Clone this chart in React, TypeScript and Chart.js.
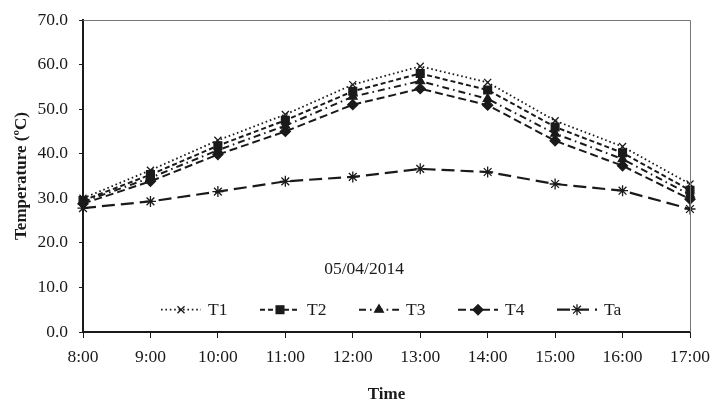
import React, { useEffect, useRef } from "react";
import { Chart, registerables } from "chart.js";
import { drawPoint } from "chart.js/helpers";

Chart.register(...registerables);

const categories = ["8:00", "9:00", "10:00", "11:00", "12:00", "13:00", "14:00", "15:00", "16:00", "17:00"];
const seriesT1 = [30.0, 36.3, 43.0, 48.8, 55.5, 59.6, 56.0, 47.4, 41.6, 33.2];
const seriesT2 = [29.5, 35.3, 41.8, 47.5, 54.0, 58.0, 54.3, 46.0, 40.2, 31.8];
const seriesT3 = [29.2, 34.6, 40.8, 46.3, 52.8, 56.3, 52.3, 44.5, 38.8, 30.8];
const seriesT4 = [28.8, 33.8, 39.8, 45.0, 51.0, 54.6, 50.9, 42.9, 37.3, 29.8];
const seriesTa = [27.8, 29.3, 31.5, 33.8, 34.8, 36.6, 35.9, 33.2, 31.7, 27.6];
const seriesLabels = ["T1", "T2", "T3", "T4", "Ta"];
const dateLabel = "05/04/2014";
const xTitle = "Time";
const yTitle = "Temperature (ºC)";

const FONT = "'Liberation Serif', 'Times New Roman', serif";
const INK = "#1a1a1a";
const TICK_SIZE = 17.5;

const frameAndLegend = {
  id: "frameAndLegend",
  afterDatasetsDraw(chart: any) {
    const { ctx, chartArea } = chart;
    const { left, right, top, bottom } = chartArea;
    ctx.save();
    ctx.strokeStyle = "#777";
    ctx.lineWidth = 1;
    ctx.beginPath();
    ctx.moveTo(left, top + 0.5);
    ctx.lineTo(right + 0.5, top + 0.5);
    ctx.lineTo(right + 0.5, bottom);
    ctx.stroke();

    const yScale = chart.scales.y;
    ctx.fillStyle = INK;
    ctx.font = `${TICK_SIZE}px ${FONT}`;
    ctx.textAlign = "center";
    ctx.textBaseline = "middle";
    ctx.fillText(dateLabel, left + 0.463 * (right - left), yScale.getPixelForValue(14.1));

    const ly = yScale.getPixelForValue(5.0);
    chart.data.datasets.forEach((ds: any, i: number) => {
      const x0 = left + 78 + i * 99;
      ctx.save();
      ctx.strokeStyle = ds.borderColor;
      ctx.lineWidth = ds.borderWidth;
      ctx.setLineDash(ds.borderDash || []);
      ctx.beginPath();
      ctx.moveTo(x0, ly);
      ctx.lineTo(x0 + 40, ly);
      ctx.stroke();
      ctx.setLineDash([]);
      ctx.strokeStyle = INK;
      ctx.fillStyle = INK;
      ctx.lineWidth = ds.pointBorderWidth;
      drawPoint(ctx, {
        pointStyle: ds.pointStyle,
        radius: ds.pointRadius,
        rotation: 0,
        borderWidth: ds.pointBorderWidth,
      } as any, x0 + 20, ly);
      ctx.restore();
      ctx.fillStyle = INK;
      ctx.font = `${TICK_SIZE}px ${FONT}`;
      ctx.textAlign = "left";
      ctx.textBaseline = "middle";
      ctx.fillText(ds.label, x0 + 47, ly + 1);
    });
    ctx.restore();
  },
};

function makeDataset(label: string, data: number[], dash: number[], style: string, radius: number, width: number) {
  return {
    label,
    data,
    borderColor: INK,
    backgroundColor: INK,
    borderWidth: width,
    borderDash: dash,
    pointStyle: style,
    pointRadius: radius,
    pointBorderWidth: 1.3,
    pointBackgroundColor: INK,
    pointBorderColor: INK,
    pointHoverRadius: radius,
    fill: false,
    tension: 0,
    clip: false,
  };
}

export default function App() {
  const ref = useRef<HTMLCanvasElement | null>(null);
  useEffect(() => {
    if (!ref.current) return;
    const chart = new Chart(ref.current, {
      type: "line",
      data: {
        labels: categories,
        datasets: [
          makeDataset(seriesLabels[0], seriesT1, [1.6, 2.8], "crossRot", 5, 1.8),
          makeDataset(seriesLabels[1], seriesT2, [5, 3], "rect", 5.5, 2),
          makeDataset(seriesLabels[2], seriesT3, [7, 4, 1.6, 4], "triangle", 5, 2),
          makeDataset(seriesLabels[3], seriesT4, [8, 4], "rectRot", 5, 2),
          makeDataset(seriesLabels[4], seriesTa, [13, 6], "star", 5.5, 2.2),
        ],
      },
      options: {
        responsive: false,
        animation: false,
        maintainAspectRatio: false,
        layout: { padding: { top: 20, right: 21, left: 0, bottom: 0 } },
        plugins: {
          legend: { display: false },
          tooltip: { enabled: false },
        },
        scales: {
          x: {
            type: "category",
            offset: false,
            grid: {
              display: true,
              drawOnChartArea: false,
              drawTicks: true,
              tickLength: 6,
              color: INK,
              lineWidth: 1,
            },
            border: { display: true, color: INK, width: 2 },
            ticks: {
              font: { family: FONT, size: TICK_SIZE },
              color: INK,
              padding: 9,
              maxRotation: 0,
              autoSkip: false,
            },
            title: {
              display: true,
              text: xTitle,
              font: { family: FONT, size: 17, weight: "bold" },
              color: INK,
              padding: { top: 9, bottom: -3 },
            },
            afterFit(scale: any) {
              scale.height = 70;
              scale.paddingLeft = 0;
              scale.paddingRight = 0;
            },
          },
          y: {
            min: 0,
            max: 70,
            ticks: {
              stepSize: 10,
              font: { family: FONT, size: TICK_SIZE },
              color: INK,
              padding: 11,
              callback: (v: any) => Number(v).toFixed(1),
            },
            grid: {
              display: true,
              drawOnChartArea: false,
              drawTicks: true,
              tickLength: 4,
              color: INK,
              lineWidth: 1,
            },
            border: { display: true, color: INK, width: 2 },
            title: {
              display: true,
              text: yTitle,
              font: { family: FONT, size: 17, weight: "bold" },
              color: INK,
              padding: { top: 11, bottom: 0 },
            },
            afterFit(scale: any) {
              scale.width = 83;
              scale.paddingTop = 0;
              scale.paddingBottom = 0;
            },
          },
        },
      },
      plugins: [frameAndLegend],
    } as any);
    return () => chart.destroy();
  }, []);
  return (
    <div style={{ position: "fixed", left: 0, top: 0, width: 711, height: 402, background: "#fff" }}>
      <canvas ref={ref} width={711} height={402} style={{ display: "block", width: 711, height: 402 }} />
    </div>
  );
}
